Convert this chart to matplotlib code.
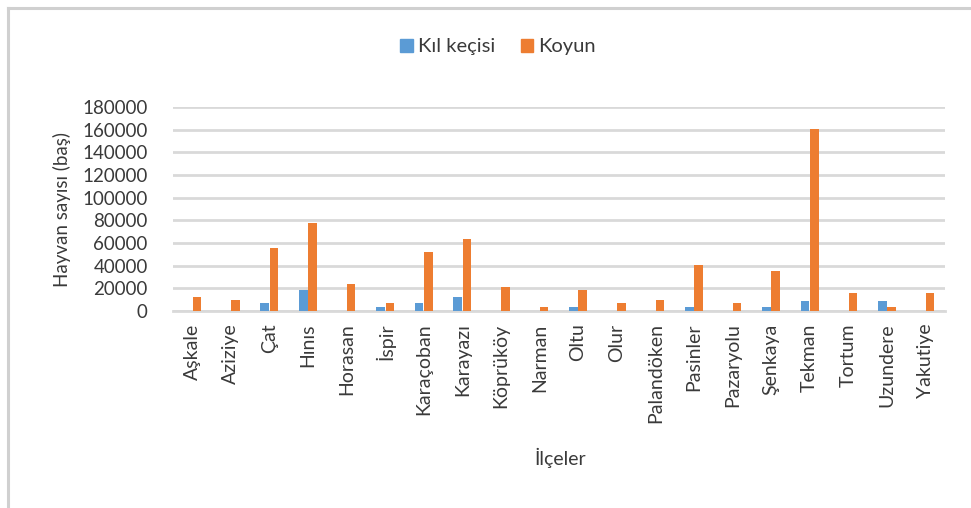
import matplotlib
matplotlib.use("Agg")
import matplotlib.pyplot as plt
import numpy as np
from matplotlib.lines import Line2D
from matplotlib.patches import Patch

plt.rcParams["font.family"] = ["Lato", "DejaVu Sans"]

districts = [
    "Aşkale", "Aziziye", "Çat", "Hınıs", "Horasan", "İspir", "Karaçoban",
    "Karayazı", "Köprüköy", "Narman", "Oltu", "Olur", "Palandöken",
    "Pasinler", "Pazaryolu", "Şenkaya", "Tekman", "Tortum", "Uzundere",
    "Yakutiye",
]
kil_kecisi = [
    0, 0, 6800, 18500, 0, 3800, 6800, 12600, 0, 0, 3800, 0, 0,
    3800, 0, 3800, 9100, 0, 9100, 0,
]
koyun = [
    12600, 9700, 55300, 77900, 23800, 6800, 52300, 63500, 20900, 3800,
    18500, 6800, 9700, 40600, 6800, 35000, 160600, 15600, 3800, 15600,
]

BLUE = "#5B9BD5"
ORANGE = "#ED7D31"
TEXT = "#3a3a3a"
GRID = "#d9d9d9"

fig = plt.figure(figsize=(9.71, 5.08), dpi=100)
ax = fig.add_axes([0.178, 0.388, 0.795, 0.401])

x = np.arange(len(districts))
width = 0.22
ax.bar(x - 0.12, kil_kecisi, width, color=BLUE, label="Kıl keçisi", zorder=3)
ax.bar(x + 0.12, koyun, width, color=ORANGE, label="Koyun", zorder=3)

ax.set_xlim(-0.5, len(districts) - 0.5)
ax.set_ylim(0, 180000)
ax.set_yticks(np.arange(0, 180001, 20000))
ax.set_yticklabels([str(v) for v in range(0, 180001, 20000)],
                   fontsize=13.5, color=TEXT)
ax.set_xticks(x)
ax.set_xticklabels(districts, rotation=90, fontsize=14, color=TEXT)
ax.tick_params(axis="y", length=0, pad=18)
ax.tick_params(axis="x", length=0, pad=9)

ax.grid(axis="y", color=GRID, linewidth=2, zorder=0)
for side in ["top", "right", "left"]:
    ax.spines[side].set_visible(False)
ax.spines["bottom"].set_color(GRID)
ax.spines["bottom"].set_linewidth(2)

ax.set_ylabel("Hayvan sayısı (baş)", fontsize=13.5, color=TEXT, labelpad=8)
fig.text(0.577, 0.085, "İlçeler", fontsize=14, color=TEXT, ha="center")

handles = [Patch(color=BLUE), Patch(color=ORANGE)]
fig.legend(handles, ["Kıl keçisi", "Koyun"], loc="center",
           bbox_to_anchor=(0.513, 0.908), ncol=2, frameon=False,
           fontsize=14.5, handlelength=0.6, handleheight=0.6,
           handletextpad=0.25, columnspacing=1.3, labelcolor=TEXT)

# chart area border (left and top edges)
fig.add_artist(Line2D([8 / 971, 8 / 971], [0, 1 - 8 / 508],
                      transform=fig.transFigure, color="#d0d0d0", linewidth=2.2))
fig.add_artist(Line2D([8 / 971, 1], [1 - 8 / 508, 1 - 8 / 508],
                      transform=fig.transFigure, color="#d0d0d0", linewidth=2.2))

fig.savefig("out.png", dpi=100)
plt.close(fig)
